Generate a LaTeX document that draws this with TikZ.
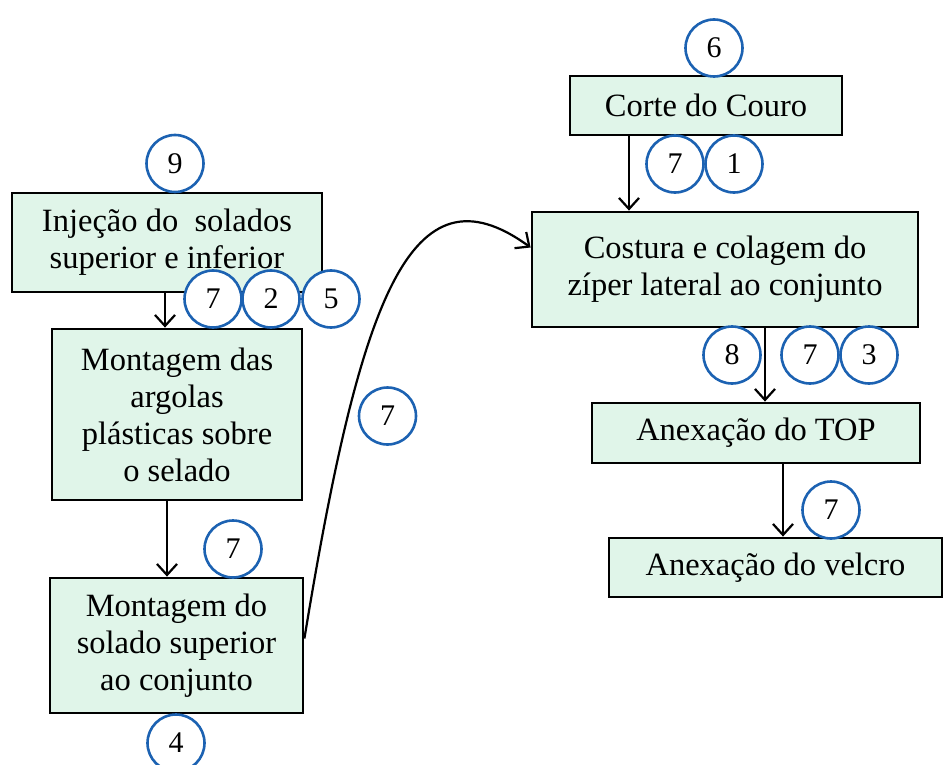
\documentclass[tikz,border=0pt]{standalone}
\usepackage{fontspec}
\setmainfont{Liberation Serif}
\usetikzlibrary{calc,arrows.meta}
\definecolor{caixaverde}{RGB}{224,245,233}
\definecolor{azulcirc}{RGB}{28,98,178}
\begin{document}
\begin{tikzpicture}[x=1pt,y=-1pt,
  caixa/.style={draw=black,fill=caixaverde,line width=2.8pt,inner sep=0pt,align=center,
    font=\fontsize{32.5}{37}\selectfont},
  num/.style={circle,draw=azulcirc,fill=white,line width=2.6pt,minimum size=57pt,inner sep=0pt,
    font=\fontsize{30}{30}\selectfont},
  seta/.style={line width=2.2pt,-{Straight Barb[length=11pt,width=20pt,line width=2.2pt]}}]
\useasboundingbox (0,0) rectangle (943,765);
\draw (167,242.5) node[caixa,minimum width=310pt,minimum height=99pt] (inj) {Injeção do\ \ solados\\superior e inferior};
\draw (177,414.5) node[caixa,minimum width=250pt,minimum height=171pt] (argo) {Montagem das\\argolas\\plásticas sobre\\o selado};
\draw (176.5,645.5) node[caixa,minimum width=253pt,minimum height=135pt] (sol) {Montagem do\\solado superior\\ao conjunto};
\draw (706,105.5) node[caixa,minimum width=272pt,minimum height=59pt] (corte) {Corte do Couro};
\draw (725,269.5) node[caixa,minimum width=386pt,minimum height=115pt] (cost) {Costura e colagem do\\zíper lateral ao conjunto};
\draw (756,433) node[caixa,minimum width=328pt,minimum height=60pt] (top) {Anexação do TOP};
\draw (775.5,567.5) node[caixa,minimum width=333pt,minimum height=59pt] (vel) {Anexação do velcro};
\draw (175,163.5) node[num] (n9) {9};
\draw (213,299) node[num] (n7a) {7};
\draw (271,299) node[num] (n2) {2};
\draw (331,299) node[num] (n5) {5};
\draw (387.5,416) node[num] (n7b) {7};
\draw (233,549) node[num] (n7c) {7};
\draw (176,743) node[num] (n4) {4};
\draw (714,48) node[num] (n6) {6};
\draw (675,164) node[num] (n7d) {7};
\draw (734,164) node[num] (n1) {1};
\draw (732,355) node[num] (n8) {8};
\draw (810,355) node[num] (n7e) {7};
\draw (869,355) node[num] (n3) {3};
\draw (831,510) node[num] (n7f) {7};
\draw[seta] ([xshift=-2pt]inj.south) -- ([xshift=-2pt]inj.south |- argo.north);
\draw[seta] ([xshift=-10pt]argo.south) -- ([xshift=-10pt]argo.south |- sol.north);
\draw[seta] ([xshift=-77pt]corte.south) -- ([xshift=-77pt]corte.south |- cost.north);
\draw[seta] ([xshift=40pt]cost.south) -- ([xshift=40pt]cost.south |- top.north);
\draw[seta] ([xshift=27pt]top.south) -- ([xshift=27pt]top.south |- vel.north);
\draw[seta] ([yshift=7pt]sol.east) .. controls (360,300) and (410,160) .. ([yshift=22pt]cost.west);
\end{tikzpicture}
\end{document}
